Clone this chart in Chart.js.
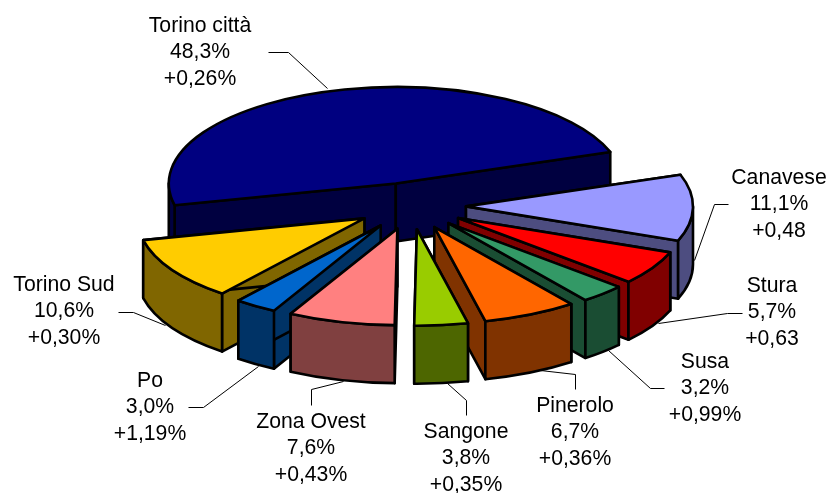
<!DOCTYPE html>
<html><head><meta charset="utf-8">
<style>html,body{margin:0;padding:0;background:#fff}#w{width:829px;height:493px;position:relative}</style>
<script src="https://cdn.jsdelivr.net/npm/chart.js@4"></script>
</head><body><div id="w"><canvas id="c" width="829" height="493"></canvas></div>
<script>
const categories = ['Torino città','Canavese','Stura','Susa','Pinerolo','Sangone','Zona Ovest','Po','Torino Sud'];
const shares = [48.3,11.1,5.7,3.2,6.7,3.8,7.6,3.0,10.6];
const shareLabels = ['48,3%','11,1%','5,7%','3,2%','6,7%','3,8%','7,6%','3,0%','10,6%'];
const changeLabels = ['+0,26%','+0,48','+0,63','+0,99%','+0,36%','+0,35%','+0,43%','+1,19%','+0,30%'];
const colors = ['#000080','#9999FF','#FF0000','#339966','#FF6600','#99CC00','#FF8080','#0066CC','#FFCC00'];

const TILT = 0.425, DEPTH = 58, EXPLODE = 55;
const FONT = '21.2px "Liberation Sans", Arial, sans-serif';
const LINE_H = 26.5;
const labelAt = [[200,26],[779,178],[772,286],[705,362],[575,406],[466,432],[311,422],[150,381],[64,285]];
const leaders = [
 [[268,52],[288,52],[327,88]],
 [[728,204],[714,204],[694,260]],
 [[742,313],[727,313],[658,323]],
 [[608,350],[650,388],[664,388]],
 [[540,370],[575,374],[575,389]],
 [[447,383],[466,400],[466,415]],
 [[343,381],[311,389],[311,405]],
 [[258,366],[203,407],[188,407]],
 [[165,325],[133,312],[118,312]]
];

function halve(hex){
  const n = parseInt(hex.slice(1),16);
  const c = s => Math.round(((n>>s)&255)/2);
  return `rgb(${c(16)},${c(8)},${c(0)})`;
}

const pie3d = {
  id:'pie3d',
  beforeDatasetsDraw(chart){
    const ctx = chart.ctx, TAU = Math.PI*2;
    const slices = chart.getDatasetMeta(0).data.map(arc=>{
      const p = arc.getProps(['x','y','startAngle','endAngle','outerRadius'],true);
      const o = arc.options, mid = (p.startAngle+p.endAngle)/2;
      const off = o.offset;
      return {r:p.outerRadius,a0:p.startAngle,a1:p.endAngle,
        cx:p.x+off*Math.cos(mid), cy:p.y+off*TILT*Math.sin(mid),
        top:o.backgroundColor, side:halve(o.backgroundColor), bw:o.borderWidth, border:o.borderColor};
    }).sort((s,t)=>s.cy-t.cy);
    ctx.save();
    ctx.lineJoin='round';
    for(const s of slices){
      const ry = s.r*TILT;
      const pt = a=>[s.cx+s.r*Math.cos(a), s.cy+ry*Math.sin(a)];
      ctx.lineWidth=s.bw; ctx.strokeStyle=s.border;
      // radial walls
      for(const a of [s.a0,s.a1]){
        const [x,y]=pt(a);
        ctx.beginPath();
        ctx.moveTo(s.cx,s.cy);ctx.lineTo(x,y);ctx.lineTo(x,y+DEPTH);ctx.lineTo(s.cx,s.cy+DEPTH);ctx.closePath();
        ctx.fillStyle=s.side;ctx.fill();ctx.stroke();
      }
      // outer wall (front-facing part of the rim only)
      let st=s.a0; while(st<0) st+=TAU; while(st>=TAU) st-=TAU;
      const en=st+(s.a1-s.a0);
      for(const [lo,hi] of [[0,Math.PI],[TAU,TAU+Math.PI]]){
        const u=Math.max(st,lo), v=Math.min(en,hi);
        if(v<=u) continue;
        ctx.beginPath();
        ctx.ellipse(s.cx,s.cy,s.r,ry,0,u,v);
        ctx.ellipse(s.cx,s.cy+DEPTH,s.r,ry,0,v,u,true);
        ctx.closePath();
        ctx.fillStyle=s.side;ctx.fill();ctx.stroke();
      }
      // top face
      ctx.beginPath();
      ctx.moveTo(s.cx,s.cy);
      ctx.ellipse(s.cx,s.cy,s.r,ry,0,s.a0,s.a1);
      ctx.closePath();
      ctx.fillStyle=s.top;ctx.fill();ctx.stroke();
    }
    ctx.restore();
    return false;
  },
  afterDraw(chart){
    const ctx=chart.ctx;
    ctx.save();
    ctx.strokeStyle='#000';ctx.lineWidth=1;
    for(const l of leaders){
      ctx.beginPath();
      l.forEach((p,i)=>i?ctx.lineTo(p[0]+.5,p[1]+.5):ctx.moveTo(p[0]+.5,p[1]+.5));
      ctx.stroke();
    }
    ctx.font=FONT;ctx.fillStyle='#000';ctx.textAlign='center';ctx.textBaseline='middle';
    categories.forEach((name,i)=>{
      const [x,y]=labelAt[i];
      [name,shareLabels[i],changeLabels[i]].forEach((t,k)=>ctx.fillText(t,x,y+k*LINE_H));
    });
    ctx.restore();
  }
};

new Chart(document.getElementById('c'),{
  type:'pie',
  data:{labels:categories,datasets:[{data:shares,backgroundColor:colors,borderColor:'#000',borderWidth:2.6,offset:EXPLODE}]},
  options:{
    responsive:false,animation:false,rotation:257,radius:227,
    layout:{padding:{right:7,bottom:81}},
    plugins:{legend:{display:false},tooltip:{enabled:false}}
  },
  plugins:[pie3d]
});
</script></body></html>
